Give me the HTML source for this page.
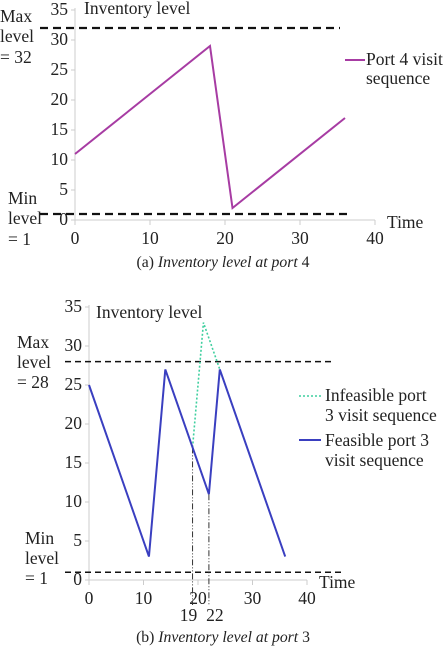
<!DOCTYPE html>
<html><head><meta charset="utf-8"><style>
html,body{margin:0;padding:0;background:#fff}
svg{display:block}
text{font-family:"Liberation Serif",serif;fill:#222}
</style></head><body>
<svg width="446" height="649" viewBox="0 0 446 649">
<g id="ca"></g>
<g id="cb"></g>
<text x="223" y="267" font-size="15.7" text-anchor="middle">(a) <tspan font-style="italic">Inventory level at port</tspan> 4</text>
<text x="223" y="642" font-size="15.7" text-anchor="middle">(b) <tspan font-style="italic">Inventory level at port</tspan> 3</text>
</svg>
<script>
const NS="http://www.w3.org/2000/svg";
const FS=17.5;
// Chart A data
const aTimes=[0,18,21,36];
const aLevels=[11,29,2,17];
const aMax=32, aMin=1;
const yTicks=[0,5,10,15,20,25,30,35];
const xTicks=[0,10,20,30,40];
// Chart B data
const bFeasTimes=[0,11,14,22,24,36];
const bFeasLevels=[25,3,27,11,27,3];
const bInfTimes=[19,21,24];
const bInfLevels=[17,33,27];
const bMax=28, bMin=1;
const bMarkTimes=[19,22];
const bMarkLevels=[17,11];
const bMarkLabels=["19","22"];

function el(p,tag,attrs,txt){const e=document.createElementNS(NS,tag);for(const k in attrs)e.setAttribute(k,attrs[k]);if(txt!=null)e.textContent=txt;p.appendChild(e);return e;}

function chart(g,o){
  const X=v=>o.x0+v*o.xs, Y=v=>o.y0-v*o.ys;
  const ax=el(g,'line',{x1:X(0),y1:Y(35)-2,x2:X(0),y2:Y(0),stroke:'#ccc','stroke-width':1});
  
  const bx=el(g,'line',{x1:X(0),y1:Y(0),x2:X(40),y2:Y(0),stroke:'#ccc','stroke-width':1});
  
  yTicks.forEach(t=>{const e=el(g,'text',{x:X(0)-7,y:Y(t)+5,'font-size':FS,'text-anchor':'end'},t);
    
    el(g,'line',{x1:X(0)-4,y1:Y(t),x2:X(0),y2:Y(t),stroke:'#ccc'});});
  xTicks.forEach(t=>{const e=el(g,'text',{x:X(t),y:Y(0)+24,'font-size':FS,'text-anchor':'middle'},t);
    
    el(g,'line',{x1:X(t),y1:Y(0),x2:X(t),y2:Y(0)+5,stroke:'#ccc'});});
  const mx=el(g,'line',{x1:o.dx1,y1:Y(o.max),x2:o.dx2,y2:Y(o.max),stroke:'#111','stroke-width':o.dw,'stroke-dasharray':o.dd});
  
  const mn=el(g,'line',{x1:o.dx1,y1:Y(o.min),x2:o.dx3,y2:Y(o.min),stroke:'#111','stroke-width':o.dw,'stroke-dasharray':o.dd});
  
  const t1=el(g,'text',{x:o.tx,y:o.ty,'font-size':FS},'Inventory level');
  
  const t2=el(g,'text',{x:X(40)+12,y:Y(0)+8,'font-size':FS},'Time');
  
  return {X,Y};
}
function poly(g,ts,vs,X,Y,attrs,name){
  const pts=ts.map((t,i)=>X(t)+','+Y(vs[i])).join(' ');
  const p=el(g,'polyline',Object.assign({points:pts,fill:'none'},attrs));
  
}
function label(g,x,ys,lines,name){
  const t=el(g,'text',{x:x,'font-size':FS});
  
  lines.forEach((l,i)=>el(t,'tspan',{x:x,y:ys[i]},l));
}
// Chart A
const ga=document.getElementById('ca');
const A=chart(ga,{x0:75,xs:7.5,y0:220,ys:6,max:aMax,min:aMin,dx1:40,dx2:340,dx3:347,dw:2.2,dd:'8,5',tx:84,ty:14});
poly(ga,aTimes,aLevels,A.X,A.Y,{stroke:'#a73ca3','stroke-width':2},'port4-line');
label(ga,0,[22,42,63],['Max','level','= 32'],'max-level-label');
label(ga,8,[204,224,245],['Min','level','= 1'],'min-level-label');
el(ga,'line',{x1:345,y1:60,x2:365,y2:60,stroke:'#a73ca3','stroke-width':2});
label(ga,366,[65,84],['Port 4 visit','sequence'],'legend-port4');
// Chart B
const gb=document.getElementById('cb');
const B=chart(gb,{x0:89,xs:5.45,y0:580,ys:7.8,max:bMax,min:bMin,dx1:65,dx2:335,dx3:342,dw:1.5,dd:'6,4',tx:96,ty:318});
bMarkTimes.forEach((t,i)=>{
  const l=el(gb,'line',{x1:B.X(t),y1:B.Y(bMarkLevels[i]),x2:B.X(t),y2:605,stroke:'#333','stroke-width':1,'stroke-dasharray':'6,2,1,2,1,2'});
  
  const tx=el(gb,'text',{x:B.X(t)+(i?6:-4),y:621,'font-size':FS,'text-anchor':'middle'},bMarkLabels[i]);
  
});
poly(gb,bInfTimes,bInfLevels,B.X,B.Y,{stroke:'#3fcf9f','stroke-width':1.6,'stroke-dasharray':'2,2'},'infeasible-line');
poly(gb,bFeasTimes,bFeasLevels,B.X,B.Y,{stroke:'#3a3fc0','stroke-width':2},'feasible-line');
label(gb,17,[348,368,388],['Max','level','= 28'],'max-level-label');
label(gb,25,[544,564,584],['Min','level','= 1'],'min-level-label');
el(gb,'line',{x1:299,y1:396,x2:321,y2:396,stroke:'#3fcf9f','stroke-width':1.6,'stroke-dasharray':'2,2'});
label(gb,325,[401,421],['Infeasible port','3 visit sequence'],'legend-infeasible');
el(gb,'line',{x1:299,y1:440,x2:321,y2:440,stroke:'#3a3fc0','stroke-width':2});
label(gb,325,[446,466],['Feasible port 3','visit sequence'],'legend-feasible');
</script>
</body></html>
